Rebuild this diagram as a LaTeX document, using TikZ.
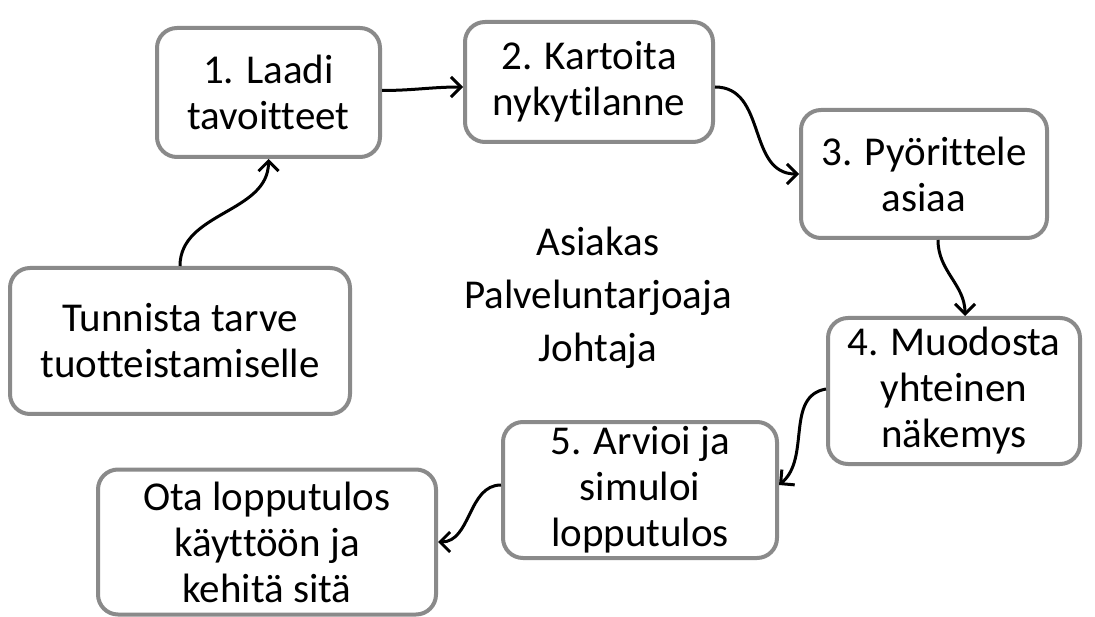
\documentclass[tikz,border=0pt]{standalone}
\usepackage{fontspec}
\setmainfont[Ligatures={NoCommon}]{Carlito}
\usetikzlibrary{arrows.meta}
\begin{document}
\begin{tikzpicture}[x=1pt,y=-1pt,
  box/.style={draw=boxgray,line width=4pt,rounded corners=20pt,fill=white,
    align=center,inner sep=0pt,font=\fontsize{41}{46}\selectfont},
  conn/.style={line width=3pt,-{Straight Barb[length=10pt,width=20pt,line width=3pt]}},
  lbl/.style={align=center,font=\fontsize{41}{53}\selectfont}]
\definecolor{boxgray}{RGB}{138,138,138}
\useasboundingbox (0,0) rectangle (1095,617);
\node[box,minimum width=340pt,minimum height=146pt] (b0) at (180,341) {Tunnista tarve\\tuotteistamiselle};
\node[box,minimum width=223pt,minimum height=129pt] (b1) at (268.5,92.5) {1. Laadi\\tavoitteet};
\node[box,minimum width=248pt,minimum height=120pt] (b2) at (589,82) {2. Kartoita\\nykytilanne};
\node[box,minimum width=246pt,minimum height=128pt] (b3) at (924,174) {3. Pyörittele\\asiaa};
\node[box,minimum width=252pt,minimum height=146pt] (b4) at (954,391) {4. Muodosta\\yhteinen\\näkemys};
\node[box,minimum width=274pt,minimum height=136pt] (b5) at (640,490) {5. Arvioi ja\\simuloi\\lopputulos};
\node[box,minimum width=338pt,minimum height=145pt] (b6) at (267,542) {Ota lopputulos\\käyttöön ja\\kehitä sitä};
\node[lbl] (roles) at (598,298) {Asiakas\\Palveluntarjoaja\\Johtaja};
\draw[conn] (b0.north) to[out=90,in=-90] (b1.south);
\draw[conn] ([yshift=2]b1.east) to[out=0,in=180] ([yshift=-5]b2.west);
\draw[conn] ([yshift=-5]b2.east) to[out=0,in=180,looseness=1.1] (b3.west);
\draw[conn] ([xshift=14]b3.south) to[out=-90,in=90] ([xshift=11]b4.north);
\draw[conn] ([yshift=2]b4.west) to[out=190,in=40] ([yshift=5]b5.east);
\draw[conn] ([yshift=5]b5.west) to[out=180,in=0] (b6.east);
\end{tikzpicture}
\end{document}
